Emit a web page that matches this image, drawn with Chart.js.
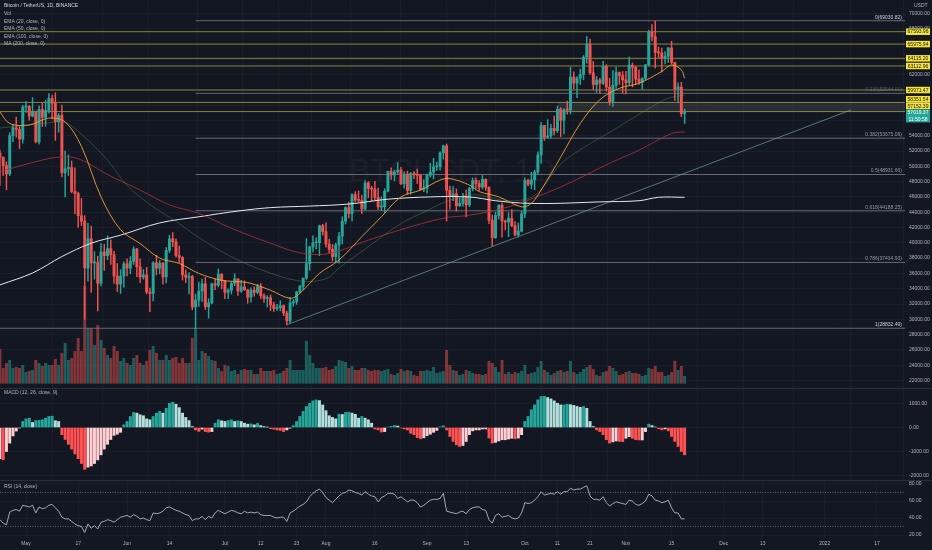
<!DOCTYPE html>
<html><head><meta charset="utf-8">
<script src="https://cdn.jsdelivr.net/npm/chart.js@4.4.0/dist/chart.umd.min.js"></script>
<style>
html,body{margin:0;padding:0;background:#131722;}
#wrap{position:relative;width:932px;height:550px;overflow:hidden;background:#131722;}
canvas{position:absolute;left:0;}
.sep{position:absolute;left:0;width:932px;height:1px;background:#2a2e39;}
</style></head><body>
<div id="wrap">
<canvas id="cMain" width="932" height="388" style="top:0"></canvas>
<canvas id="cMacd" width="932" height="92" style="top:388px"></canvas>
<canvas id="cRsi" width="932" height="70" style="top:480px"></canvas>
<div class="sep" style="top:388px"></div>
<div class="sep" style="top:480px"></div>
</div>
<script>
// ---------- DATA (daily candles, Apr 23 2021 -> Nov 19 2021) ----------
const firstDay = -8;           // day offset of first candle (0 = May 1 2021)
const firstOpen = 51700;
const closes = [
51190,50090,49000,54020,55030,54830,53560,57750,
57830,56570,57170,53200,57440,56390,57310,58860,58240,55820,56670,49150,49680,49840,46710,46430,43540,42840,36700,40530,37370,37420,34700,38800,38320,39240,38440,35660,34610,35640,37250,
36690,37560,39190,36850,35520,35800,33550,33380,37390,36680,37330,35540,39020,40520,40140,38350,38090,35820,35480,35600,31610,32510,33680,34650,31640,32160,34640,34460,35870,35040,
33520,33800,34670,35290,33690,34220,33860,32880,33810,33510,34260,33090,32730,32820,31880,31380,31520,31780,30820,29790,32140,32290,33580,34290,35380,37270,39460,40000,40010,42240,41460,
39850,39150,38200,39720,40870,42830,44610,43820,46290,45590,45550,44430,47830,47100,47020,45930,44690,44710,46760,49340,48870,49280,49520,47710,48980,46840,49070,48900,48810,46990,47130,
48830,49250,49940,49940,51760,52660,46860,46060,46400,44850,45170,46030,44960,47110,48140,47750,47300,48300,47260,42960,40690,43570,44900,42840,42720,43210,42230,41030,41520,43790,
48140,47660,48230,49250,51490,55340,53800,53970,54960,54660,57470,56010,57370,57350,61670,60880,61530,62010,64280,66000,62210,60690,61290,60850,63080,60330,58460,60590,62250,61860,61300,
60910,63220,62930,61400,60980,61520,63280,67530,66940,64880,64830,64160,64390,65470,63580,60100,60360,56890,57019.37];
const highs = [
52130,51200,50590,54360,55460,56430,55200,57960,
58450,57950,58980,57210,57900,58360,58650,59500,59300,59600,56900,58000,52000,51500,50700,49800,46640,45800,43550,42550,42200,38850,38250,39900,39800,40900,40400,38880,37300,36490,37500,
37900,38200,39480,39280,37900,36500,36800,34070,37530,38400,37690,37440,39380,41000,41330,40530,39560,38200,36460,36100,35740,33300,34880,35260,35500,32700,34750,35300,36600,36000,
35050,33980,34950,35950,35290,35100,35050,33900,34100,34250,34600,34670,33330,33100,33190,32250,31950,32430,31900,31060,32860,32580,33650,34480,35400,40550,39540,40900,40640,42320,42420,
42600,40460,39780,39970,41380,43390,44700,45310,46450,46700,46780,46200,48140,48000,47400,48050,47160,46000,47070,49380,49800,49500,50500,49860,49280,49360,49170,49310,49640,48900,48240,
49000,50390,51050,50550,51900,52780,52920,47380,47350,47050,45970,46460,46890,47260,48480,48500,48150,48800,48370,47330,43640,44000,44990,45200,42970,43940,44350,42790,42600,44130,
48490,48340,49230,49500,51890,55750,55340,56100,55480,56560,57840,57680,57550,58530,62930,62340,61720,62700,64490,67000,66640,63720,61750,61490,63710,63290,61500,62500,62960,62350,62400,
62400,64270,63500,63100,62600,61580,63290,67790,68530,69000,65580,65460,65000,65550,66340,63620,60900,60980,57500];
const lows = [
47500,48800,46930,48790,53220,53810,52330,53010,
57050,56030,56450,53050,52900,55200,55240,56930,56200,53400,54450,48600,46000,48800,46550,43800,42000,42250,30000,35000,33500,35250,31100,34350,36400,37800,37180,34700,33630,33380,34200,
35660,35950,37170,35560,34800,35250,33330,31000,32400,35800,35940,34600,34760,38730,39500,38120,37400,35130,34800,33330,31250,28800,31700,32300,31270,30150,32000,33860,34230,34000,
32710,32700,33300,34400,33120,33530,33760,32100,32250,33020,33330,32700,32200,31600,31130,31020,31170,31100,30470,29280,29480,31700,31950,33400,33880,35210,36400,38800,39200,38320,41000,
39420,38690,37640,37510,37330,39850,42450,43260,42840,45350,45340,43800,44250,45900,45500,45650,44380,44200,43950,46640,48300,48100,49030,47600,47140,46320,46370,48390,47770,46860,46700,
46500,48610,48350,49450,49500,50950,42850,44410,45500,44150,44720,44750,43370,44730,46780,47030,46850,47040,46850,42500,39600,40570,43100,40750,41680,40800,42100,40900,40760,41410,
43290,47430,47080,46940,49000,50380,53380,53650,53680,54100,54420,53880,54250,56820,56850,60150,58960,60700,61320,63480,62000,60000,59670,59530,60670,59820,58000,57820,60170,60720,59550,
59470,60620,60380,60680,60720,60040,61330,63110,66380,62820,64180,62330,63380,63580,63400,58620,58380,56480,55600];
// volume, thousand BTC
const volumes = [
136,60,80,92,60,64,60,72,
44,48,52,92,80,68,80,72,72,96,72,120,160,92,100,128,180,128,388,220,220,152,232,172,140,112,100,148,128,88,100,
80,72,100,112,80,72,88,132,148,120,92,92,112,92,100,104,80,100,80,80,180,220,92,128,120,108,92,88,60,48,
72,68,48,52,36,52,56,52,52,36,36,60,48,48,48,52,36,40,48,60,92,52,52,52,52,168,112,80,60,60,60,
64,52,56,68,92,88,84,60,68,52,52,60,60,52,48,52,52,48,52,56,36,32,40,56,48,52,48,32,28,48,48,
52,48,64,40,44,48,132,72,52,48,32,36,52,48,40,36,36,32,36,88,80,64,44,92,36,44,36,44,40,48,
72,36,40,44,64,88,52,44,32,40,48,52,44,48,88,44,36,44,56,64,72,56,32,28,44,48,68,60,48,32,36,
44,48,40,40,36,28,32,60,56,68,44,44,28,32,44,88,52,68,28];
const macdHist = [
-1300,-1350,-1000,-650,-350,-150,-20,
250,360,390,210,290,300,320,390,460,470,280,250,
-300,-500,-700,-900,-1100,-1300,-1500,-1740,-1650,-1600,-1500,-1350,-1140,-900,-700,-500,-330,-280,-200,
110,250,460,625,600,530,490,360,320,460,600,670,600,800,1010,1055,970,830,600,420,290,40,
-100,-160,-70,-170,-190,-170,
180,320,280,250,290,320,250,280,250,180,140,150,110,170,80,40,15,
-50,-70,-100,-120,-170,-100,-30,
80,250,460,670,875,1010,1110,1150,1120,940,700,490,420,360,555,540,625,640,600,550,390,460,390,320,180,
-60,-100,-190,-170,20,50,80,60,
-20,-60,-100,-240,-300,-420,-470,-430,-340,-280,-200,-120,30,70,
-100,-375,-580,-720,-790,-750,-580,-300,-140,-100,-100,-60,-60,
-440,-650,-620,-560,-510,-510,-480,-450,-470,-440,-300,
250,460,740,940,1150,1290,1300,1250,1190,1110,1010,940,940,970,950,920,875,840,875,800,250,40,
-100,-170,-300,-510,-650,-600,-560,-580,-590,-450,-380,-450,-510,-520,-520,-170,
140,80,20,
-55,-100,-60,-140,-375,-580,-790,-1000,-1140];
const rsiValues = [
38,34,32,47,49,50,48,55,
54,53,55,46,53,51,52,55,56,52,48,41,39,39,36,33,31,30,23,33,28,31,27,35,36,38,37,35,38,41,42,
43,41,44,42,39,40,38,37,46,45,46,48,52,53,51,49,48,46,44,43,37,39,39,42,38,42,40,46,49,47,
45,47,49,48,46,45,48,46,47,46,47,44,43,43,43,41,40,41,41,36,46,48,51,54,56,59,65,69,72,74,70,
64,61,58,62,66,69,70,73,72,70,69,67,71,68,66,65,59,64,66,69,69,68,63,65,62,59,61,61,58,53,55,
58,61,62,62,63,69,48,47,46,45,47,48,45,50,52,53,53,50,49,38,34,43,45,41,42,43,40,39,40,46,
58,57,58,61,65,71,67,68,69,68,71,68,71,71,75,73,74,74,76,78,66,62,62,61,65,58,54,57,59,58,57,
56,61,60,56,55,57,60,68,66,61,60,58,59,61,52,46,46,39,39];
// moving averages: [day offset, value]
const ema20 = [[-8,57100],[-5,55600],[1,55400],[7,56300],[12,55800],[17,52600],[23,46000],[29,41700],[35,39900],[41,38000],[47,37300],[53,36000],[60,35100],[66,34900],[69,34700],[75,33800],[81,32750],[84,33400],[90,36000],[96,37750],[103,40800],[109,43400],[115,46000],[121,46900],[127,48200],[130,48400],[136,47550],[139,46700],[145,46000],[152,44700],[155,45150],[158,46900],[164,51200],[170,55600],[176,58700],[182,60200],[188,60850],[195,62400],[198,63250],[201,62600],[202,61500]];
const ema50 = [[-8,55000],[5,55600],[12,55700],[18,53800],[25,50800],[31,47500],[38,45000],[46,42800],[53,40700],[62,38400],[72,36500],[84,35000],[92,35300],[96,36700],[105,39500],[115,42500],[122,44000],[129,45400],[137,46300],[148,45500],[156,46200],[164,50300],[172,52700],[180,54700],[190,57300],[197,58900],[202,59300]];
const ema100 = [[-8,49300],[3,50600],[10,51200],[16,51000],[26,48700],[35,46900],[44,44950],[53,43850],[63,41900],[75,39950],[84,38700],[93,38600],[105,40350],[118,42100],[129,43300],[136,43600],[148,44700],[164,47300],[179,50400],[188,52100],[198,54300],[202,54500]];
const ma200 = [[-8,34500],[2,36050],[11,38200],[20,39950],[29,41000],[41,42600],[53,43400],[65,44150],[75,44600],[87,44800],[99,45070],[111,45700],[124,46000],[136,46000],[144,45500],[152,45200],[162,45150],[176,45350],[188,45500],[194,45950],[202,45950]];
// drawings
const yellowLevels = [67593.96,65975.94,64115.20,63112.96,59971.47,58351.54,57152.39];
const fibValues = [69030.82,59544.01,53675.06,48931.66,44188.25,37434.93,28832.49];
const fibNames = ['0','0.236','0.382','0.5','0.618','0.786','1'];
const fibStartDay = 52;      // Jun 22 low
const trendLine = [[80,29280],[253,57370]];
const zoneLevels = [58351.54,57152.39];
const zoneStartDay = 163;
const lastPrice = 57019.37, countdown = '11:50:58';
const dateTicks = [[0,'May'],[16,'17'],[31,'Jun'],[44,'14'],[61,'Jul'],[72,'12'],[83,'23'],[92,'Aug'],[107,'16'],[123,'Sep'],[135,'13'],[153,'Oct'],[163,'11'],[173,'21'],[184,'Nov'],[198,'15'],[214,'Dec'],[226,'13'],[245,'2022'],[261,'17']];
const legendLines = ['Bitcoin / TetherUS, 1D, BINANCE','Vol','EMA (20, close, 0)','EMA (50, close, 0)','EMA (100, close, 0)','MA (200, close, 0)'];

// ---------- BUILD ----------
const XMIN = -7.98, XMAX = 269.6;
const FONT = '"Liberation Sans", Arial, sans-serif';
const GRID = '#1a1e2a';
const TXT = '#b2b5be';
const UPC = '#26a69a', DNC = '#ef5350';
const days = closes.map((_, i) => firstDay + i);
const opens = closes.map((c, i) => i === 0 ? firstOpen : closes[i - 1]);
const isUp = closes.map((c, i) => c >= opens[i]);
const candleCol = isUp.map(u => u ? UPC : DNC);

function xScale(show) {
  return {
    type: 'linear', min: XMIN, max: XMAX, offset: false,
    afterBuildTicks: s => { s.ticks = dateTicks.map(t => ({ value: t[0] })); },
    ticks: { display: show, autoSkip: false, maxRotation: 0, padding: 3, color: TXT,
      font: { size: 5, family: FONT },
      callback: v => { const t = dateTicks.find(t => t[0] === v); return t ? t[1] : ''; } },
    grid: { color: GRID, drawTicks: false }, border: { display: false },
    afterFit: s => { s.height = show ? 12 : 0; s.paddingLeft = 0; s.paddingRight = 0; }
  };
}
function yRight(min, max, step) {
  return {
    position: 'right', min, max,
    afterBuildTicks: s => {
      const t = [];
      for (let v = Math.ceil(min / step) * step; v <= max; v += step) t.push({ value: v });
      s.ticks = t;
    },
    ticks: { color: TXT, padding: 4, autoSkip: false,
      font: { size: 5, family: FONT }, callback: v => Number(v).toFixed(2) },
    grid: { color: GRID, drawTicks: false }, border: { display: false },
    afterFit: s => { s.width = 27; s.paddingTop = 0; s.paddingBottom = 0; }
  };
}
function lineDs(pts, color, width, order, extra) {
  return Object.assign({ type: 'line', data: pts.map(p => ({ x: p[0], y: p[1] })), borderColor: color,
    borderWidth: width, pointRadius: 0, pointHoverRadius: 0, pointHitRadius: 0, fill: false, order, yAxisID: 'y' }, extra || {});
}

const mainDatasets = [
  { type: 'bar', data: days.map((d, i) => ({ x: d, y: volumes[i] })), yAxisID: 'yv',
    backgroundColor: isUp.map(u => u ? 'rgba(38,166,154,0.5)' : 'rgba(239,83,80,0.5)'),
    barThickness: 2.3, grouped: false, order: 20 },
  { type: 'bar', data: days.map((d, i) => ({ x: d, y: [Math.min(lows[i], opens[i], closes[i]), Math.max(highs[i], opens[i], closes[i])] })),
    yAxisID: 'y', backgroundColor: candleCol, barThickness: 0.8, grouped: false, order: 3 },
  { type: 'bar', data: days.map((d, i) => ({ x: d, y: [opens[i], closes[i]] })),
    yAxisID: 'y', backgroundColor: candleCol, barThickness: 2.3, grouped: false, minBarLength: 1, order: 2 },
  lineDs(ema20, '#f0a23a', 0.9, 1, { tension: 0.35 }),
  lineDs(ema50, 'rgba(90,150,90,0.7)', 0.6, 1, { tension: 0.35 }),
  lineDs(ema100, '#b2323c', 0.8, 1, { tension: 0.35 }),
  lineDs(ma200, '#e6e8ee', 1.0, 1, { tension: 0.35 }),
  lineDs(trendLine, 'rgba(130,185,165,0.75)', 0.8, 6)
];
yellowLevels.forEach(v => mainDatasets.push(lineDs([[XMIN, v], [XMAX, v]], 'rgba(175,166,70,0.85)', 0.9, 15)));
fibValues.forEach((v, i) => {
  const start = fibNames[i] === '1' ? XMIN : fibStartDay;
  mainDatasets.push(lineDs([[start, v], [XMAX, v]], '#6f7380', 0.9, 15));
});

const mainOverlay = {
  id: 'mainOverlay',
  beforeDatasetsDraw(chart) {
    const { ctx, chartArea: a, scales } = chart;
    ctx.save();
    ctx.fillStyle = 'rgba(255,255,255,0.035)';
    ctx.font = '32px ' + FONT; ctx.textAlign = 'center'; ctx.textBaseline = 'middle';
    ctx.fillText('BTCUSDT, 1D', 452, 172);
    const x0 = scales.x.getPixelForValue(zoneStartDay);
    const y1 = scales.y.getPixelForValue(zoneLevels[0]), y2 = scales.y.getPixelForValue(zoneLevels[1]);
    ctx.fillStyle = 'rgba(120,123,134,0.22)';
    ctx.fillRect(x0, y1, a.right - x0, y2 - y1);
    ctx.restore();
  },
  afterDraw(chart) {
    const { ctx, chartArea: a, scales } = chart;
    const ys = scales.y;
    ctx.save();
    ctx.font = '5px ' + FONT; ctx.textBaseline = 'bottom'; ctx.textAlign = 'right';
    fibValues.forEach((v, i) => {
      const n = fibNames[i];
      ctx.fillStyle = (n === '0' || n === '1') ? '#d1d4dc' : (n === '0.236' ? 'rgba(149,152,161,0.5)' : '#9598a1');
      ctx.fillText(n + '(' + v.toFixed(2) + ')', a.right - 3, ys.getPixelForValue(v) - 1);
    });
    // price labels
    const bx = a.right + 1, bw = 24, bh = 6.5;
    const cy = ys.getPixelForValue(lastPrice);
    let prevTop = cy - bh / 2;
    const boxes = [];
    yellowLevels.slice().sort((p, q) => p - q).forEach(v => {
      let c = Math.min(ys.getPixelForValue(v), prevTop - bh / 2 - 0.2);
      boxes.push([v, c]); prevTop = c - bh / 2;
    });
    ctx.textAlign = 'center'; ctx.textBaseline = 'middle'; ctx.font = '5px ' + FONT;
    boxes.forEach(([v, c]) => {
      ctx.fillStyle = '#f5e33b'; ctx.fillRect(bx, c - bh / 2, bw, bh);
      ctx.fillStyle = '#131722'; ctx.fillText(v.toFixed(2), bx + bw / 2, c + 0.3);
    });
    ctx.fillStyle = '#26a69a'; ctx.fillRect(bx, cy - bh / 2, bw, bh * 2);
    ctx.fillStyle = '#ffffff';
    ctx.fillText(lastPrice.toFixed(2), bx + bw / 2, cy + 0.3);
    ctx.fillText(countdown, bx + bw / 2, cy + bh + 0.3);
    ctx.fillStyle = TXT; ctx.textAlign = 'left';
    ctx.fillText('USDT', a.right + 9, 6);
    // legend
    const ly = [6, 14, 21.5, 29, 36.5, 44];
    legendLines.forEach((t, i) => {
      ctx.fillStyle = i === 0 ? '#d1d4dc' : TXT;
      ctx.fillText(t, 4, ly[i]);
    });
    ctx.restore();
  }
};

const common = { responsive: false, animation: false, events: [],
  layout: { padding: 0, autoPadding: false }, plugins: { legend: { display: false }, tooltip: { enabled: false } } };

new Chart(document.getElementById('cMain'), {
  type: 'bar',
  data: { datasets: mainDatasets },
  options: Object.assign({}, common, {
    scales: { x: xScale(false), y: yRight(21020, 71740, 2000),
      yv: { display: false, min: -18.8, max: 1533 } }
  }),
  plugins: [mainOverlay]
});

const macdColors = macdHist.map((v, i) => {
  const prev = i > 0 ? macdHist[i - 1] : v;
  if (v >= 0) return v >= prev ? '#26a69a' : '#b2dfdb';
  return v < prev ? '#ff5252' : '#ffcdd2';
});
const paneLabel = (text, y) => ({
  id: 'lbl' + Math.round(y * 10),
  afterDraw(chart) { const c = chart.ctx; c.save(); c.font = '5px ' + FONT; c.fillStyle = TXT;
    c.textBaseline = 'middle'; c.fillText(text, 4, y); c.restore(); }
});
new Chart(document.getElementById('cMacd'), {
  type: 'bar',
  data: { datasets: [{ data: days.map((d, i) => ({ x: d, y: macdHist[i] })), backgroundColor: macdColors,
    barThickness: 2.3, grouped: false }] },
  options: Object.assign({}, common, { scales: { x: xScale(false), y: yRight(-2187.5, 1646, 1000) } }),
  plugins: [paneLabel('MACD (12, 26, close, 9)', 4.5)]
});

new Chart(document.getElementById('cRsi'), {
  type: 'line',
  data: { datasets: [
    { data: days.map((d, i) => ({ x: d, y: rsiValues[i] })), borderColor: '#c9ccd4', borderWidth: 0.8, pointRadius: 0, pointHoverRadius: 0, pointHitRadius: 0, tension: 0 },
    { data: [{ x: XMIN, y: 70 }, { x: XMAX, y: 70 }], borderColor: '#6f7380', borderWidth: 0.8, borderDash: [1, 1.5], pointRadius: 0, pointHoverRadius: 0 },
    { data: [{ x: XMIN, y: 30 }, { x: XMAX, y: 30 }], borderColor: '#6f7380', borderWidth: 0.8, borderDash: [1, 1.5], pointRadius: 0, pointHoverRadius: 0 }
  ] },
  options: Object.assign({}, common, { scales: { x: xScale(true), y: yRight(16.5, 84.7, 20) } }),
  plugins: [paneLabel('RSI (14, close)', 7)]
});
</script>
</body></html>
